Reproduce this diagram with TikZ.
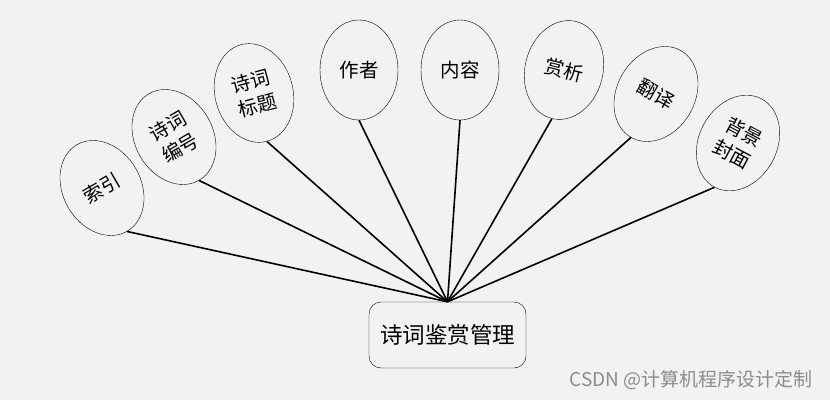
\documentclass[tikz,border=0pt]{standalone}
\usepackage{fontspec}
\setmainfont{Noto Sans CJK SC}
\usetikzlibrary{positioning}
\usetikzlibrary{shapes.geometric}
\definecolor{bg}{RGB}{242,242,242}
\definecolor{mark}{RGB}{140,140,140}
\def\lw{1.6pt}
\def\rx{78pt}
\def\ry{100pt}
\tikzset{
    attr/.style = {
        draw, ellipse, thin, fill=bg, minimum width=\rx, minimum height=\ry, inner sep=0pt,
        align=center, font=\fontsize{19.5}{25}\selectfont
    },
    root/.style = {
        draw, thin, rectangle, rounded corners=12pt, fill=bg, minimum width=157pt, minimum height=66pt,
        font=\fontsize{22.5}{25}\selectfont
    },
    link/.style = {line width=\lw}
}
\begin{document}
\begin{tikzpicture}[x=1pt, y=1pt]
        % Background and size
        \fill[bg] (0,0) rectangle (830,400);
        \useasboundingbox (0,0) rectangle (830,400);
        % Place the attributes
        \node [attr, rotate=30]  (a1) at (102,212) {索引};
        \node [attr, rotate=30]  (a2) at (174,263) {诗词\\编号};
        \node [attr, rotate=15]  (a3) at (254,307) {诗词\\标题};
        \node [attr]             (a4) at (359,330) {作者};
        \node [attr]             (a5) at (460,330) {内容};
        \node [attr, rotate=-14] (a6) at (564,330) {赏析};
        \node [attr, rotate=-30] (a7) at (656,306) {翻译};
        \node [attr, rotate=-28] (a8) at (738,257) {背景\\封面};
        % Place the root
        \node [root] (r) at (447.5,65) {诗词鉴赏管理};
        % Connect the attributes
        \foreach \x in {1, 2, ..., 8}{
            \draw[link] (a\x.south) -- (r.north);
        }
        \node [anchor=east, text=mark, font=\fontsize{19}{21}\selectfont] (w) at (816,20) {CSDN @计算机程序设计定制};
    \end{tikzpicture}
\end{document}
